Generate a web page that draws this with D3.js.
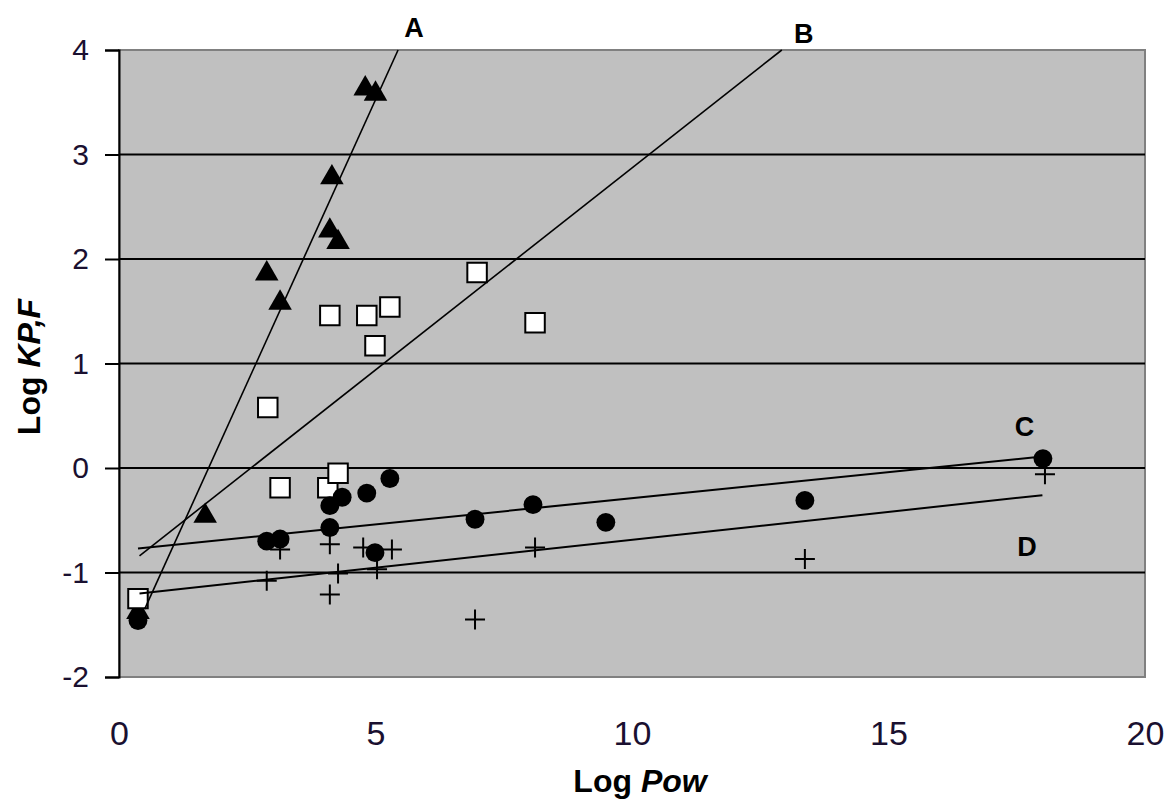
<html>
<script src="https://d3js.org/d3.v7.js"></script>
<body style="margin:0;background:#fff;">
<svg id="chart" width="1166" height="801"></svg>
<script>
    // values (Log Pow, Log KP,F)
    let triX = [0.37, 1.68, 2.88, 3.14, 4.11, 4.15, 4.27, 4.80, 5.00];
    let triY = [-1.38, -0.46, 1.86, 1.58, 2.27, 2.78, 2.16, 3.63, 3.58];

    let sqX = [0.37, 2.90, 3.14, 4.07, 4.27, 4.11, 4.83, 4.99, 5.28, 6.98, 8.11];
    let sqY = [-1.25, 0.58, -0.19, -0.19, -0.05, 1.46, 1.46, 1.17, 1.54, 1.87, 1.39];

    let circX = [0.37, 2.88, 3.14, 4.11, 4.11, 4.35, 4.83, 4.99, 5.28, 6.94, 8.07, 9.49, 13.37, 18.01];
    let circY = [-1.46, -0.70, -0.68, -0.57, -0.36, -0.28, -0.24, -0.81, -0.10, -0.49, -0.35, -0.52, -0.31, 0.09];

    let crossX = [2.88, 3.14, 4.11, 4.11, 4.27, 4.76, 5.03, 5.32, 6.94, 8.11, 13.37, 18.05];
    let crossY = [-1.08, -0.78, -0.73, -1.21, -1.01, -0.76, -0.97, -0.78, -1.45, -0.76, -0.87, -0.06];

    // trendline ends
    let lineNames = ["A", "B", "C", "D"];
    let lineX1 = [0.50, 0.40, 0.37, 0.40];
    let lineY1 = [-1.35, -0.84, -0.77, -1.20];
    let lineX2 = [5.44, 12.92, 18.00, 18.00];
    let lineY2 = [4.00, 4.00, 0.11, -0.26];
    let lineW = [1.6, 1.6, 2, 2];
    let labelX = [5.75, 13.35, 17.65, 17.7];
    let labelY = [4.125, 4.07, 0.31, -0.84];

    let yTicks = [4, 3, 2, 1, 0, -1, -2];
    let xTicks = [0, 5, 10, 15, 20];

    let svg = d3.select('#chart');
    let x = d3.scaleLinear().domain([0, 20]).range([119, 1145]);
    let y = d3.scaleLinear().domain([-2, 4]).range([677, 50]);

    // plot area
    svg.append('rect')
        .attr('x', x(0)).attr('y', y(4))
        .attr('width', x(20) - x(0)).attr('height', y(-2) - y(4))
        .attr('fill', '#c0c0c0')
        .attr('stroke', '#808080')
        .attr('stroke-width', 2);

    svg.selectAll('.grid').data(yTicks.filter(d => d > -2 && d < 4))
        .enter().append('line')
        .attr('class', 'grid')
        .attr('x1', x(0)).attr('x2', x(20))
        .attr('y1', d => y(d)).attr('y2', d => y(d))
        .attr('stroke', '#000').attr('stroke-width', 2);

    // y axis
    let yAxis = d3.axisLeft(y).tickValues(yTicks).tickSize(14).tickPadding(16);
    let gy = svg.append('g').attr('transform', `translate(${x(0)},0)`).call(yAxis);
    gy.select('.domain').attr('stroke', '#000').attr('stroke-width', 2);
    gy.selectAll('.tick line').attr('stroke', '#000').attr('stroke-width', 2);
    gy.selectAll('.tick text')
        .style('font-family', 'Liberation Sans, Arial, sans-serif')
        .style('font-size', '30px')
        .attr('fill', '#1a1030')
        .text(d => d < 0 ? '-' + Math.abs(d) : d);

    // x axis (labels only)
    let xAxis = d3.axisBottom(x).tickValues(xTicks).tickSize(0).tickPadding(44);
    let gx = svg.append('g').attr('transform', `translate(0,${y(-2)})`).call(xAxis);
    gx.select('.domain').remove();
    gx.selectAll('.tick text')
        .style('font-family', 'Liberation Sans, Arial, sans-serif')
        .style('font-size', '34px')
        .attr('fill', '#1a1030');

    svg.selectAll('.tri').data(triX).enter().append('path')
        .attr('class', 'tri')
        .attr('transform', (d, i) => `translate(${x(d)},${y(triY[i])})`)
        .attr('d', d3.symbol().type(d3.symbolTriangle).size(240)())
        .attr('fill', '#000');

    svg.selectAll('.sq').data(sqX).enter().append('path')
        .attr('class', 'sq')
        .attr('transform', (d, i) => `translate(${x(d)},${y(sqY[i])})`)
        .attr('d', d3.symbol().type(d3.symbolSquare).size(380)())
        .attr('fill', '#fff')
        .attr('stroke', '#000')
        .attr('stroke-width', 2);

    svg.selectAll('.circ').data(circX).enter().append('path')
        .attr('class', 'circ')
        .attr('transform', (d, i) => `translate(${x(d)},${y(circY[i])})`)
        .attr('d', d3.symbol().type(d3.symbolCircle).size(280)())
        .attr('fill', '#000');

    svg.selectAll('.cross').data(crossX).enter().append('path')
        .attr('class', 'cross')
        .attr('transform', (d, i) => `translate(${x(d)},${y(crossY[i])})`)
        .attr('d', 'M-10,0H10M0,-10V10')
        .attr('stroke', '#000')
        .attr('stroke-width', 2);

    // trendlines
    svg.selectAll('.trend').data(lineNames).enter().append('line')
        .attr('class', 'trend')
        .attr('x1', (d, i) => x(lineX1[i])).attr('y1', (d, i) => y(lineY1[i]))
        .attr('x2', (d, i) => x(lineX2[i])).attr('y2', (d, i) => y(lineY2[i]))
        .attr('stroke', '#000')
        .attr('stroke-width', (d, i) => lineW[i]);

    svg.selectAll('.lbl').data(lineNames).enter().append('text')
        .attr('class', 'lbl')
        .attr('x', (d, i) => x(labelX[i])).attr('y', (d, i) => y(labelY[i]))
        .attr('text-anchor', 'middle')
        .style('font-family', 'Liberation Sans, Arial, sans-serif')
        .style('font-size', '27px')
        .style('font-weight', 'bold')
        .text(d => d);

    // axis titles
    let xt = svg.append('text')
        .attr('x', 640).attr('y', 792)
        .attr('text-anchor', 'middle')
        .style('font-family', 'Liberation Sans, Arial, sans-serif')
        .style('font-size', '32px')
        .style('font-weight', 'bold');
    xt.append('tspan').text('Log ');
    xt.append('tspan').style('font-style', 'italic').text('Pow');

    let yt = svg.append('text')
        .attr('transform', 'translate(40,367) rotate(-90)')
        .attr('text-anchor', 'middle')
        .style('font-family', 'Liberation Sans, Arial, sans-serif')
        .style('font-size', '32px')
        .style('font-weight', 'bold');
    yt.append('tspan').text('Log ');
    yt.append('tspan').style('font-style', 'italic').text('KP,F');
</script>
</body>
</html>
